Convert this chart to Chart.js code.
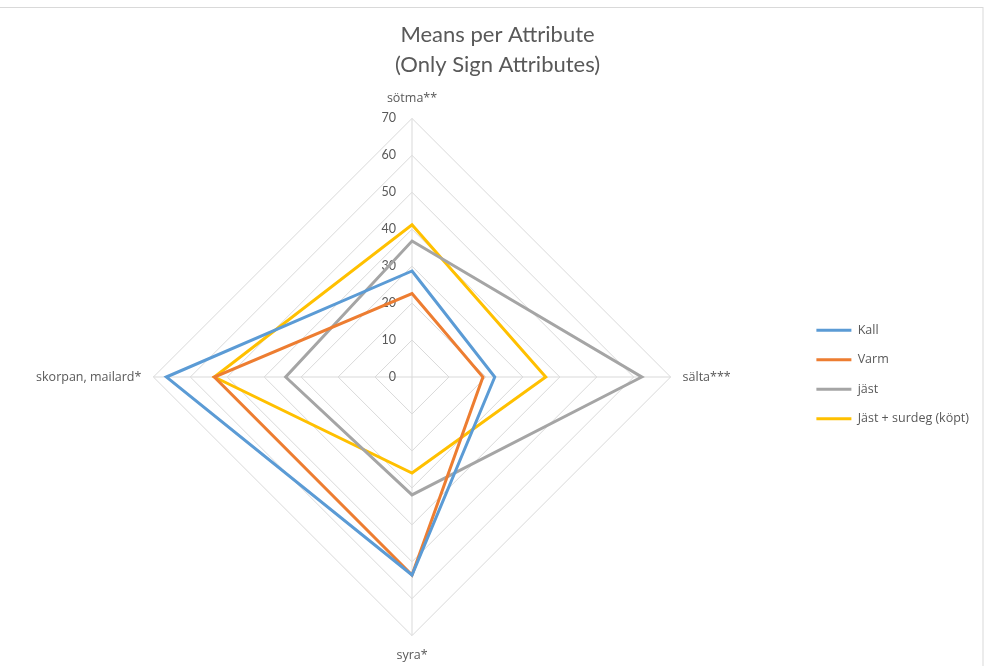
<!DOCTYPE html>
<html>
<head>
<meta charset="utf-8">
<script src="https://cdn.jsdelivr.net/npm/chart.js@4/dist/chart.umd.min.js"></script>
<style>
  body { margin: 0; background: #fff; }
  #wrap { width: 985px; height: 666px; }
</style>
</head>
<body>
<div id="wrap"><canvas id="radarChart" width="985" height="666"></canvas></div>
<script>
const attributes = ['sötma**', 'sälta***', 'syra*', 'skorpan, mailard*'];
const kall = [28.7, 22.4, 53.6, 66.5];
const varm = [22.6, 19.2, 53.6, 53.5];
const jast = [36.8, 62.2, 31.9, 34.2];
const jastSurdeg = [41.2, 36.2, 26.0, 53.5];
const tickMax = 70;
const tickStep = 10;

const titleFont = 'Lato, "Open Sans", sans-serif';
const labelFont = '"Open Sans", Lato, sans-serif';
const textColor = '#595959';

// tick labels sit left of the vertical axis, like Excel does it
const sideTicks = {
    id: 'sideTicks',
    beforeDatasetsDraw(chart) {
        const r = chart.scales.r;
        const c = chart.ctx;
        c.save();
        c.font = '12.5px ' + titleFont;
        c.fillStyle = textColor;
        c.textAlign = 'right';
        c.textBaseline = 'middle';
        r.ticks.forEach(t => {
            const d = r.getDistanceFromCenterForValue(t.value);
            c.fillText(t.label, r.xCenter - 16, r.yCenter - d);
        });
        c.restore();
    }
};

const frame = {
    id: 'frame',
    beforeDraw(chart) {
        const c = chart.ctx;
        c.save();
        c.strokeStyle = '#d9d9d9';
        c.lineWidth = 1;
        c.strokeRect(-1, 7.5, 984, 670);
        c.restore();
    }
};

const ctx = document.getElementById('radarChart').getContext('2d');
new Chart(ctx, {
    type: 'radar',
    data: {
        labels: attributes,
        datasets: [{
            label: 'Kall',
            data: kall,
            borderColor: '#5B9BD5',
            backgroundColor: '#5B9BD5',
            borderWidth: 3
        }, {
            label: 'Varm',
            data: varm,
            borderColor: '#ED7D31',
            backgroundColor: '#ED7D31',
            borderWidth: 3
        }, {
            label: 'jäst',
            data: jast,
            borderColor: '#A5A5A5',
            backgroundColor: '#A5A5A5',
            borderWidth: 3
        }, {
            label: 'Jäst + surdeg (köpt)',
            data: jastSurdeg,
            borderColor: '#FFC000',
            backgroundColor: '#FFC000',
            borderWidth: 3
        }]
    },
    options: {
        responsive: false,
        animation: false,
        elements: {
            line: { fill: false, tension: 0 },
            point: { radius: 0, hoverRadius: 0 }
        },
        layout: {
            padding: { left: 16, right: 6, top: 0, bottom: 3 }
        },
        plugins: {
            title: {
                display: true,
                text: ['Means per Attribute', '(Only Sign Attributes)'],
                color: textColor,
                font: { family: titleFont, size: 22, weight: 'normal', lineHeight: 1.35 },
                padding: { top: 20, bottom: 12 }
            },
            legend: {
                position: 'right',
                title: {
                    display: true,
                    text: ' ',
                    font: { size: 12, lineHeight: 1 },
                    padding: { top: 0, bottom: 74 }
                },
                labels: {
                    usePointStyle: true,
                    pointStyle: 'line',
                    pointStyleWidth: 35,
                    boxHeight: 12,
                    padding: 17,
                    color: textColor,
                    font: { family: labelFont, size: 12.5 }
                }
            },
            tooltip: { enabled: false }
        },
        scales: {
            r: {
                min: 0,
                max: tickMax,
                ticks: { stepSize: tickStep, display: false },
                grid: { color: '#d9d9d9', circular: false },
                angleLines: { color: '#d9d9d9' },
                pointLabels: {
                    color: textColor,
                    padding: 12,
                    font: { family: labelFont, size: 12.5 }
                }
            }
        }
    },
    plugins: [sideTicks, frame]
});
</script>
</body>
</html>
